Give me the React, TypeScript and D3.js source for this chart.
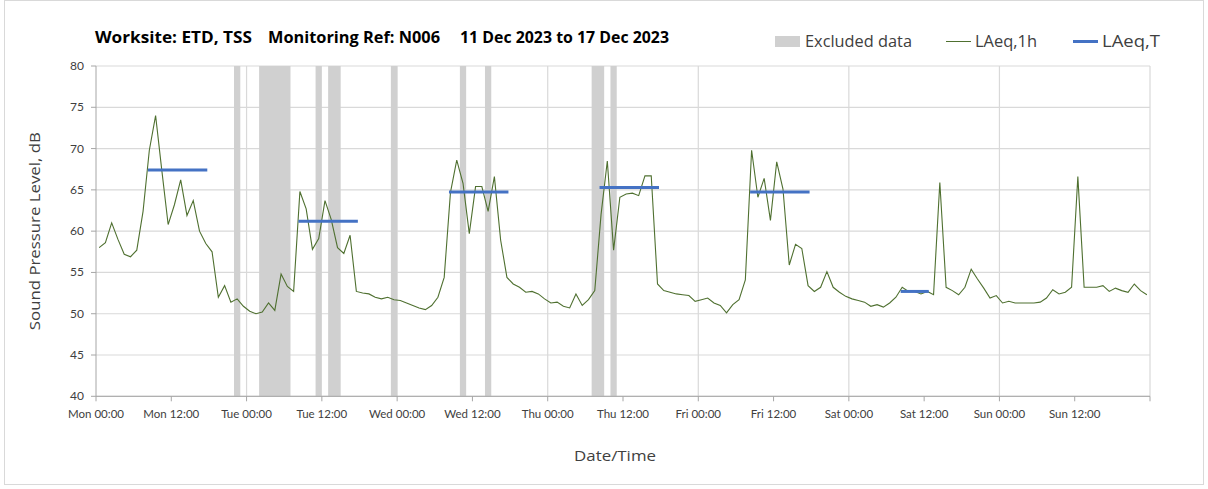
import React from "react";
import * as d3 from "d3";

// ---------- DATA ----------
const laeq1h: number[] = [
  58.0, 58.6, 61.0, 59.0, 57.2, 56.9, 57.7, 62.4, 69.8, 74.0, 67.3, 60.8,
  63.2, 66.2, 61.9, 63.7, 60.0, 58.5, 57.5, 52.0, 53.4, 51.4, 51.8, 50.9,
  50.3, 50.0, 50.2, 51.3, 50.4, 54.8, 53.3, 52.7, 64.8, 62.7, 57.8, 59.1,
  63.7, 61.4, 58.0, 57.3, 59.5, 52.7, 52.5, 52.4, 52.0, 51.8, 52.0, 51.7,
  51.6, 51.3, 51.0, 50.7, 50.5, 51.0, 52.0, 54.4, 64.7, 68.6, 65.8, 59.7,
  65.4, 65.4, 62.4, 66.6, 58.9, 54.4, 53.6, 53.2, 52.6, 52.7, 52.4, 51.8,
  51.3, 51.4, 50.9, 50.7, 52.4, 51.0, 51.7, 52.8, 62.0, 68.5, 57.7, 64.1,
  64.5, 64.6, 64.3, 66.7, 66.7, 53.6, 52.8, 52.6, 52.4, 52.3, 52.2, 51.5,
  51.7, 51.9, 51.3, 51.0, 50.1, 51.1, 51.7, 54.1, 69.8, 64.1, 66.4, 61.3,
  68.4, 65.1, 55.9, 58.4, 57.9, 53.4, 52.7, 53.2, 55.1, 53.2, 52.6, 52.1,
  51.8, 51.6, 51.4, 50.9, 51.1, 50.8, 51.3, 52.0, 53.2, 52.7, 52.7, 52.4,
  52.7, 52.3, 65.9, 53.2, 52.8, 52.3, 53.2, 55.4, 54.2, 53.1, 51.9, 52.2,
  51.3, 51.5, 51.3, 51.3, 51.3, 51.3, 51.4, 51.9, 52.9, 52.4, 52.6, 53.2,
  66.6, 53.2, 53.2, 53.2, 53.4, 52.7, 53.1, 52.8, 52.6, 53.6, 52.8, 52.3,
];

// excluded periods (hours from Mon 00:00)
const excludedStart: number[] = [22, 26, 35, 37, 47, 58, 62, 79, 82];
const excludedEnd: number[] = [23, 31, 36, 39, 48, 59, 63, 81, 83];

// LAeq,T segments
const laeqTStart: number[] = [8.5, 32.5, 56.5, 80.5, 104.5, 128.5];
const laeqTEnd: number[] = [17.5, 41.5, 65.5, 89.5, 113.5, 132.5];
const laeqTValue: number[] = [67.4, 61.2, 64.75, 65.3, 64.75, 52.7];

const xTickLabels: string[] = [
  "Mon 00:00", "Mon 12:00", "Tue 00:00", "Tue 12:00", "Wed 00:00", "Wed 12:00",
  "Thu 00:00", "Thu 12:00", "Fri 00:00", "Fri 12:00", "Sat 00:00", "Sat 12:00",
  "Sun 00:00", "Sun 12:00",
];
const yTicks: number[] = [40, 45, 50, 55, 60, 65, 70, 75, 80];
const dayLines: number[] = [24, 48, 72, 96, 120, 144, 168];

const titleParts: string[] = [
  "Worksite: ETD, TSS",
  "Monitoring Ref: N006",
  "11 Dec 2023 to 17 Dec 2023",
];

// ---------- LAYOUT ----------
const W = 1208;
const H = 489;
const plot = { left: 96, right: 1150, top: 66, bottom: 396.3 };
const FONT = "Lato, 'Open Sans', sans-serif";
const FONT2 = "'Open Sans', Lato, sans-serif";

export default function App() {
  const x = d3.scaleLinear().domain([0, 168]).range([plot.left, plot.right]);
  const y = d3.scaleLinear().domain([40, 80]).range([plot.bottom, plot.top]);

  const line = d3
    .line<number>()
    .x((_, i) => x(i + 0.5))
    .y((d) => y(d));

  const xTicks = d3.range(0, 169, 12);

  return (
    <svg
      width={W}
      height={H}
      style={{ position: "absolute", left: 0, top: 0, background: "#fff" }}
      fontFamily={FONT}
    >
      <rect x={4.5} y={0.5} width={1199} height={484} fill="#fff" stroke="#d9d9d9" />

      {/* title */}
      <g fontWeight="bold" fontSize={15.5} fill="#000" fontFamily={FONT2}>
        <text x={95} y={43} textLength={157} lengthAdjust="spacingAndGlyphs">{titleParts[0]}</text>
        <text x={268} y={43} textLength={172} lengthAdjust="spacingAndGlyphs">{titleParts[1]}</text>
        <text x={460} y={43} textLength={209} lengthAdjust="spacingAndGlyphs">{titleParts[2]}</text>
      </g>

      {/* legend */}
      <g fontSize={15.5} fill="#404040" fontFamily={FONT2}>
        <rect x={775} y={36} width={25} height={11} fill="#d0d0d0" />
        <text x={805} y={47} textLength={107} lengthAdjust="spacingAndGlyphs">Excluded data</text>
        <line x1={946} x2={971} y1={41.5} y2={41.5} stroke="#4f7030" strokeWidth={1} />
        <text x={975} y={47} textLength={62} lengthAdjust="spacingAndGlyphs">LAeq,1h</text>
        <line x1={1073} x2={1098} y1={41.5} y2={41.5} stroke="#4472c4" strokeWidth={3} />
        <text x={1102} y={47} textLength={58} lengthAdjust="spacingAndGlyphs">LAeq,T</text>
      </g>

      {/* horizontal grid */}
      {yTicks.map((t) => (
        <line key={"hg" + t} x1={plot.left} x2={plot.right} y1={y(t)} y2={y(t)} stroke="#d9d9d9" strokeWidth={1.2} />
      ))}
      {/* vertical day grid */}
      {dayLines.map((t) => (
        <line key={"vg" + t} x1={x(t)} x2={x(t)} y1={plot.top} y2={plot.bottom} stroke="#d9d9d9" strokeWidth={1.2} />
      ))}

      {/* excluded bands */}
      {excludedStart.map((s, i) => (
        <rect
          key={"ex" + i}
          x={x(s)}
          y={plot.top}
          width={x(excludedEnd[i]) - x(s)}
          height={plot.bottom - plot.top}
          fill="#d0d0d0"
        />
      ))}

      {/* axes */}
      <line x1={plot.left} x2={plot.left} y1={plot.top} y2={plot.bottom} stroke="#a6a6a6" />
      <line x1={plot.left} x2={plot.right} y1={plot.bottom} y2={plot.bottom} stroke="#a6a6a6" />
      {yTicks.map((t) => (
        <g key={"yt" + t}>
          <line x1={plot.left - 5} x2={plot.left} y1={y(t)} y2={y(t)} stroke="#a6a6a6" />
          <text x={84} y={y(t) + 4} textAnchor="end" fontSize={12} fill="#404040">
            {t}
          </text>
        </g>
      ))}
      {xTicks.map((t, i) => (
        <g key={"xt" + t}>
          <line x1={x(t)} x2={x(t)} y1={plot.bottom} y2={plot.bottom + 5} stroke="#a6a6a6" />
          {xTickLabels[i] && (
            <text x={x(t)} y={plot.bottom + 22} textAnchor="middle" fontSize={11.5} fill="#404040">
              {xTickLabels[i]}
            </text>
          )}
        </g>
      ))}

      {/* series */}
      <path d={line(laeq1h) || ""} fill="none" stroke="#4f7030" strokeWidth={1.1} />
      {laeqTStart.map((s, i) => (
        <line
          key={"lt" + i}
          x1={x(s)}
          x2={x(laeqTEnd[i])}
          y1={y(laeqTValue[i])}
          y2={y(laeqTValue[i])}
          stroke="#4472c4"
          strokeWidth={3}
          strokeLinecap="square"
        />
      ))}

      {/* axis titles */}
      <text
        transform={`translate(40, ${(plot.top + plot.bottom) / 2}) rotate(-90)`}
        textAnchor="middle"
        fontSize={15}
        fill="#404040"
        fontFamily={FONT2}
        textLength={198}
        lengthAdjust="spacingAndGlyphs"
      >
        Sound Pressure Level, dB
      </text>
      <text x={615} y={461} textAnchor="middle" fontSize={15} fill="#404040" fontFamily={FONT2} textLength={82} lengthAdjust="spacingAndGlyphs">
        Date/Time
      </text>
    </svg>
  );
}
